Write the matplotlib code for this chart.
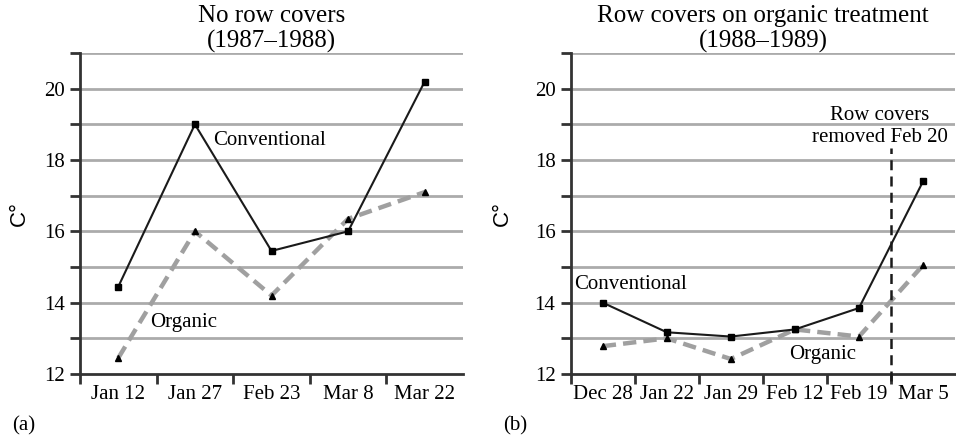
import matplotlib
matplotlib.use("Agg")
import matplotlib.pyplot as plt
from matplotlib.ticker import FixedLocator, NullFormatter

plt.rcParams['font.family'] = ['Liberation Serif', 'DejaVu Serif']
plt.rcParams['font.size'] = 15

# panel (a): no row covers, 1987-1988
dates_a = ['Jan 12', 'Jan 27', 'Feb 23', 'Mar 8', 'Mar 22']
conv_a = [14.45, 19.0, 15.45, 16.0, 20.2]
org_a = [12.45, 16.0, 14.2, 16.35, 17.1]

# panel (b): row covers on organic treatment, 1988-1989
dates_b = ['Dec 28', 'Jan 22', 'Jan 29', 'Feb 12', 'Feb 19', 'Mar 5']
conv_b = [14.0, 13.17, 13.05, 13.25, 13.85, 17.4]
org_b = [12.78, 13.0, 12.42, 13.25, 13.05, 15.05]

removed_pos = 4.5   # between Feb 19 and Mar 5
removed_top = 18.35

GRID = '#ababab'
AXC = '#333333'


def setup(ax, dates, title):
    n = len(dates)
    ax.set_xlim(-0.5, n - 0.5)
    ax.set_ylim(12, 21)
    for s in ['top', 'right']:
        ax.spines[s].set_visible(False)
    for s in ['left', 'bottom']:
        ax.spines[s].set_color(AXC)
        ax.spines[s].set_linewidth(2)
    for yv in range(13, 22):
        ax.axhline(yv, color=GRID, lw=2, zorder=0)
    ax.set_yticks([12, 14, 16, 18, 20])
    ax.yaxis.set_minor_locator(FixedLocator([13, 15, 17, 19, 21]))
    ax.tick_params(axis='y', which='both', length=7, width=2, color=AXC, pad=4)
    ax.set_xticks(range(n))
    ax.set_xticklabels(dates)
    ax.xaxis.set_minor_locator(FixedLocator([i - 0.5 for i in range(n)]))
    ax.xaxis.set_minor_formatter(NullFormatter())
    ax.tick_params(axis='x', which='major', length=0, pad=8)
    ax.tick_params(axis='x', which='minor', length=7, width=2, color=AXC)
    ax.set_title(title, pad=3, linespacing=1.15)
    ax.set_ylabel('C°', family='Liberation Sans', fontsize=16)


def series(ax, x, conv, org):
    ax.plot(x, org, color='#a0a0a0', lw=3.2, dashes=(3, 1.6), zorder=3)
    ax.plot(x, org, ls='none', marker='^', ms=5, color='black', zorder=4)
    ax.plot(x, conv, color='#1a1a1a', lw=1.5, marker='s', ms=5,
            mfc='black', mec='black', zorder=5)


fig = plt.figure(figsize=(9.56, 4.4), dpi=100)
ax1 = fig.add_axes([0.0837, 0.15, 0.4006, 0.7295])
ax2 = fig.add_axes([0.597, 0.15, 0.402, 0.7295])

setup(ax1, dates_a, 'No row covers\n(1987–1988)')
series(ax1, range(len(dates_a)), conv_a, org_a)
ax1.text(1.24, 18.54, 'Conventional', va='center', ha='left')
ax1.text(0.41, 13.44, 'Organic', va='center', ha='left')
ax1.yaxis.set_label_coords(-0.13, 0.5)

setup(ax2, dates_b, 'Row covers on organic treatment\n(1988–1989)')
series(ax2, range(len(dates_b)), conv_b, org_b)
ax2.plot([removed_pos, removed_pos], [11.8, removed_top], color='#1a1a1a',
         lw=1.8, ls=(0, (4, 2.5)), clip_on=False, zorder=6)
ax2.text(-0.44, 14.5, 'Conventional', va='center', ha='left')
ax2.text(2.91, 12.54, 'Organic', va='center', ha='left')
ax2.text(4.33, 18.94, 'Row covers\nremoved Feb 20', va='center', ha='center',
         multialignment='center', linespacing=1.15)
ax2.yaxis.set_label_coords(-0.15, 0.5)

fig.text(12 / 956, 1 - 426 / 440, '(a)', va='center', ha='left')
fig.text(503 / 956, 1 - 426 / 440, '(b)', va='center', ha='left')

fig.savefig('out.png', dpi=100)
